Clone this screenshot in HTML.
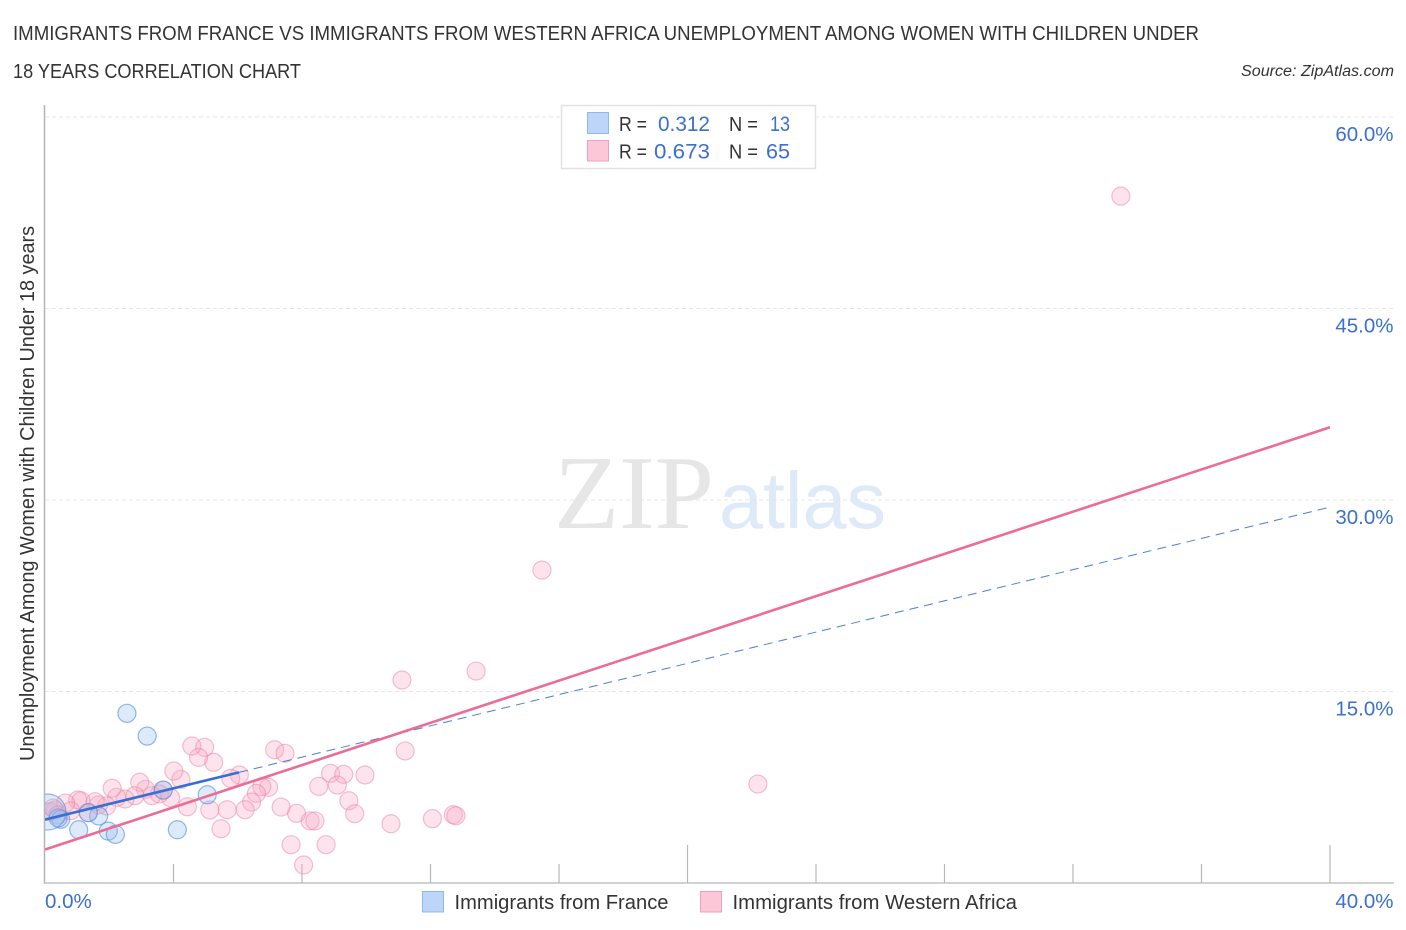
<!DOCTYPE html>
<html lang="en">
<head>
<meta charset="utf-8">
<title>Immigrants from France vs Immigrants from Western Africa Unemployment Correlation Chart</title>
<style>
html,body{margin:0;padding:0;background:#fff;width:1406px;height:930px;overflow:hidden}
svg{display:block;font-family:"Liberation Sans",sans-serif}
</style>
</head>
<body>
<svg id="chart" width="1406" height="930" viewBox="0 0 1406 930" xmlns="http://www.w3.org/2000/svg">
  <defs><clipPath id="plot-clip"><rect x="45" y="100" width="1349" height="783"/></clipPath></defs>
  <text x="13" y="40" font-size="20" fill="#333" textLength="1186" lengthAdjust="spacingAndGlyphs">IMMIGRANTS FROM FRANCE VS IMMIGRANTS FROM WESTERN AFRICA UNEMPLOYMENT AMONG WOMEN WITH CHILDREN UNDER</text>
  <text x="13" y="78" font-size="20" fill="#333" textLength="288" lengthAdjust="spacingAndGlyphs">18 YEARS CORRELATION CHART</text>
  <text x="1241" y="76" font-size="15.5" font-style="italic" fill="#333" textLength="153" lengthAdjust="spacingAndGlyphs">Source: ZipAtlas.com</text>
  <text transform="translate(34,761) rotate(-90)" font-size="20" fill="#333" textLength="535" lengthAdjust="spacingAndGlyphs">Unemployment Among Women with Children Under 18 years</text>
  <g id="watermark">
    <text x="554" y="528" font-family="'Liberation Serif',serif" font-size="105" fill="#e6e6e6" textLength="160" lengthAdjust="spacingAndGlyphs">ZIP</text>
    <text x="719" y="528" font-family="'Liberation Sans',sans-serif" font-size="80" fill="#dfeaf8" textLength="167" lengthAdjust="spacingAndGlyphs">atlas</text>
  </g>
  <g id="grid"></g>
  <g id="axes"></g>
  <g id="ylabels"></g>
  <g id="xlabels"></g>
  <g id="points" clip-path="url(#plot-clip)"></g>
  <g id="trends" clip-path="url(#plot-clip)"></g>

  <g>
    <rect x="561.5" y="105.5" width="254" height="63" fill="#fff" stroke="#e2e2e2" stroke-width="1.5"/>
    <rect x="587.5" y="112.5" width="21" height="21" fill="#bcd5f8" stroke="#8fb8ec" stroke-width="1"/>
    <text x="619" y="131" font-size="20.5" fill="#333" textLength="28" lengthAdjust="spacingAndGlyphs">R =</text>
    <text x="658" y="131" font-size="21" fill="#3b6fd0" textLength="52" lengthAdjust="spacingAndGlyphs">0.312</text>
    <text x="729" y="131" font-size="20.5" fill="#333" textLength="29" lengthAdjust="spacingAndGlyphs">N =</text>
    <text x="770" y="131" font-size="21" fill="#3b6fd0" textLength="20" lengthAdjust="spacingAndGlyphs">13</text>
    <rect x="587.5" y="140.5" width="21" height="20.5" fill="#fcc8d8" stroke="#f0a0b8" stroke-width="1"/>
    <text x="619" y="158.5" font-size="20.5" fill="#333" textLength="28" lengthAdjust="spacingAndGlyphs">R =</text>
    <text x="654" y="158.5" font-size="21" fill="#3b6fd0" textLength="56" lengthAdjust="spacingAndGlyphs">0.673</text>
    <text x="729" y="158.5" font-size="20.5" fill="#333" textLength="29" lengthAdjust="spacingAndGlyphs">N =</text>
    <text x="766" y="158.5" font-size="21" fill="#3b6fd0" textLength="24" lengthAdjust="spacingAndGlyphs">65</text>
  </g>

  <g>
    <rect x="422.5" y="891.5" width="21" height="20.5" fill="#bcd5f8" stroke="#8fb8ec" stroke-width="1"/>
    <text x="454.5" y="909" font-size="20" fill="#333" textLength="214" lengthAdjust="spacingAndGlyphs">Immigrants from France</text>
    <rect x="700.5" y="891.5" width="21" height="20.5" fill="#fcc8d8" stroke="#f0a0b8" stroke-width="1"/>
    <text x="732.5" y="909" font-size="20" fill="#333" textLength="284.5" lengthAdjust="spacingAndGlyphs">Immigrants from Western Africa</text>
  </g>
</svg>
<script>
// Series values: unemployment (%) against share of population (%)
const franceX = [2.55,3.18,3.68,5.05,4.12,1.05,1.97,2.19,1.67,1.35,0.49,0.41,0.09];
const franceY = [13.29,11.51,7.28,6.91,4.17,4.17,4.07,3.81,5.25,5.51,4.99,5.09,5.56];
const franceWeight = [1,1,1,1,1,1,1,1,1,1,1,1,4];
const africaX = [33.49,15.47,13.42,11.11,22.19,11.21,8.89,9.30,9.96,8.52,9.10,9.46,9.64,8.25,8.40,10.77,12.06,12.71,12.79,8.75,8.05,7.66,7.83,7.35,7.15,7.47,6.96,6.75,6.58,6.43,6.23,6.05,5.78,5.67,5.48,5.13,5.25,4.97,4.78,4.57,4.43,4.23,4.01,3.91,3.68,3.56,3.33,3.13,2.95,2.80,2.49,2.23,2.09,1.92,1.66,1.56,1.34,1.12,1.02,0.80,0.64,0.31,0.16,0.25,0.40];
const africaY = [53.80,24.51,16.60,15.90,7.75,10.34,8.59,8.51,8.46,7.57,7.67,6.44,5.43,4.86,4.86,4.64,5.04,5.35,5.27,3.00,1.41,3.00,5.46,5.95,10.44,10.16,7.49,7.54,7.02,6.34,5.74,8.46,8.20,5.74,4.25,5.72,9.45,10.63,9.84,10.73,5.97,8.12,8.77,6.68,7.28,6.97,6.84,7.34,7.89,6.84,6.58,6.71,7.42,6.03,6.11,6.37,5.51,6.44,6.50,5.66,6.26,5.72,5.58,5.87,5.32];
// Trend lines: y-values at x = 0 and x = 40; France is solid up to its last observed x
const trendXs = [0,40];
const franceTrend = [4.97,29.44];
const franceSolidEnd = [6.04];
const africaTrend = [2.62,35.7];
// Axis ticks
const yTicks = [15,30,45,60];
const yTickLabels = ["15.0%","30.0%","45.0%","60.0%"];
const xTicks = [0,4,8,12,16,20,24,28,32,36,40];
const xMajorTicks = [20,40];
const xEndTicks = [0,40];
const xEndLabels = ["0.0%","40.0%"];

const SVGNS = "http://www.w3.org/2000/svg";
const xScale = v => 45 + v * (1330 - 45) / 40;
const yScale = v => 883 - v * (883 - 117) / 60;
function make(tag, parent, attrs){
  const el = document.createElementNS(SVGNS, tag);
  for (const k in attrs) el.setAttribute(k, attrs[k]);
  document.getElementById(parent).appendChild(el);
  return el;
}
// Gridlines and y labels
yTicks.forEach((t,i) => {
  const g = make("line","grid",{x1:45,x2:1394,y1:yScale(t),y2:yScale(t),stroke:"#e4e4e4","stroke-width":1,"stroke-dasharray":"4 3"});
  
  
  const l = make("text","ylabels",{x:1393.5,y:yScale(t)+24,"text-anchor":"end","font-size":20.5,fill:"#3b6fd0"});
  
  
  l.textContent = yTickLabels[i];
});
// Axis lines
const yAxis = make("line","axes",{x1:44.5,x2:44.5,y1:105,y2:884,stroke:"#b4b4b4","stroke-width":1.5});


const xAxis = make("line","axes",{x1:44,x2:1394,y1:883,y2:883,stroke:"#c4c4c4","stroke-width":1.5});


xTicks.forEach(t => {
  if (t === 0) return;
  const top = xMajorTicks.includes(t) ? 845 : 864;
  const k = make("line","axes",{x1:xScale(t),x2:xScale(t),y1:top,y2:883,stroke:"#b8b8b8","stroke-width":1.2});
  
  
});
// X labels
xEndTicks.forEach((t,i) => {
  const l = make("text","xlabels",{x:i === 0 ? xScale(t) : 1393.5,y:908,"text-anchor":i === 0 ? "start" : "end","font-size":20.5,fill:"#3b6fd0"});
  
  
  l.textContent = xEndLabels[i];
});
// Points
africaX.forEach((x,i) => {
  const c = make("circle","points",{cx:xScale(x),cy:yScale(africaY[i]),r:9,fill:"rgba(248,170,195,0.32)",stroke:"rgba(236,130,162,0.5)","stroke-width":1.2});
  
  
});
franceX.forEach((x,i) => {
  const c = make("circle","points",{cx:xScale(x),cy:yScale(franceY[i]),r:9*Math.sqrt(franceWeight[i]),fill:"rgba(150,190,240,0.32)",stroke:"rgba(85,140,220,0.62)","stroke-width":1.2});
  
  
});
// Trends
const franceAt = x => franceTrend[0] + (franceTrend[1]-franceTrend[0]) * (x-trendXs[0]) / (trendXs[1]-trendXs[0]);
const dash = make("line","trends",{x1:xScale(franceSolidEnd[0]),y1:yScale(franceAt(franceSolidEnd[0])),x2:xScale(trendXs[1]),y2:yScale(franceTrend[1]),stroke:"#4a7fd8","stroke-width":1,"stroke-dasharray":"9 6"});


const solid = make("line","trends",{x1:xScale(trendXs[0]),y1:yScale(franceTrend[0]),x2:xScale(franceSolidEnd[0]),y2:yScale(franceAt(franceSolidEnd[0])),stroke:"#3570d4","stroke-width":2.6});


const pink = make("line","trends",{x1:xScale(trendXs[0]),y1:yScale(africaTrend[0]),x2:xScale(trendXs[1]),y2:yScale(africaTrend[1]),stroke:"#ec6c96","stroke-width":2.6});


</script>
</body>
</html>
